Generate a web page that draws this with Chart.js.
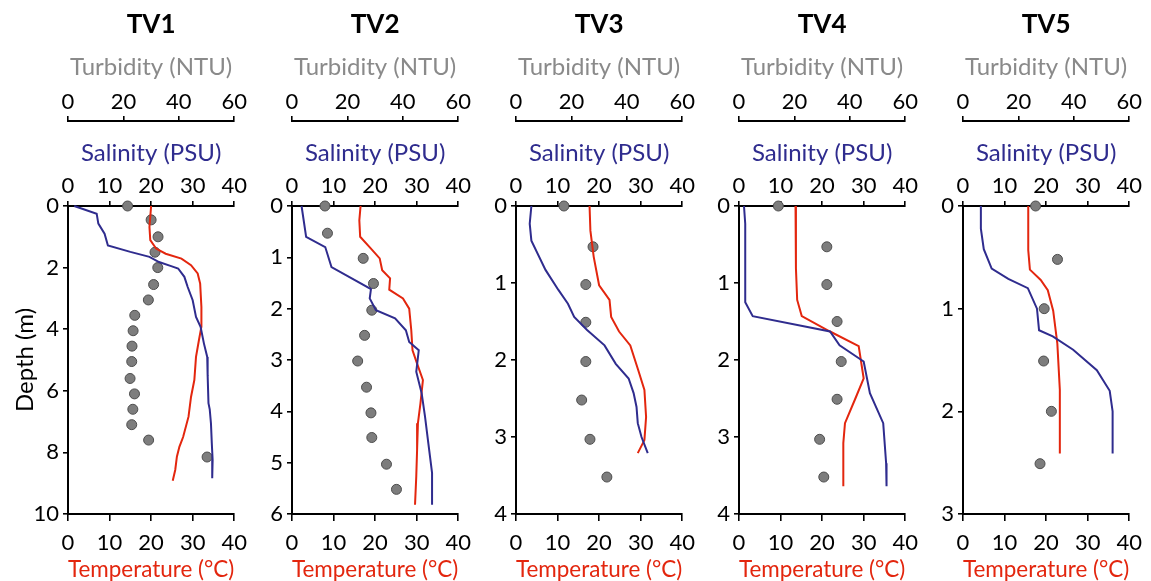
<!DOCTYPE html>
<html>
<head>
<meta charset="utf-8">
<title>TV depth profiles</title>
<script src="https://cdn.jsdelivr.net/npm/chart.js@4.4.1/dist/chart.umd.min.js"></script>
<style>
  html, body { margin: 0; padding: 0; background: #fff; width: 1151px; height: 581px; overflow: hidden; }
  canvas { position: absolute; top: 0; }
</style>
</head>
<body>
<canvas id="tv1"></canvas>
<canvas id="tv2"></canvas>
<canvas id="tv3"></canvas>
<canvas id="tv4"></canvas>
<canvas id="tv5"></canvas>
<script>
'use strict';

const FONT = 'Lato, "Open Sans", sans-serif';

const PANEL_NAMES = ['TV1', 'TV2', 'TV3', 'TV4', 'TV5'];
const DEPTH_MAX = [10, 6, 4, 4, 3];
const DEPTH_STEP = [2, 1, 1, 1, 1];
const SAL_RANGE = [0, 40, 10];
const TEMP_RANGE = [0, 40, 10];
const TURB_RANGE = [0, 60, 20];

// [depth (m), value]
const TV1_SALINITY = [[0, 1.5], [0.25, 6.9], [0.57, 7.3], [0.9, 8.8], [1.28, 9.6], [1.49, 15], [1.65, 19.6], [1.82, 21.9], [1.96, 25], [2.03, 26.5], [2.3, 28], [2.63, 28.8], [3.06, 30], [3.6, 30.8], [3.92, 31.9], [4.46, 32.7], [4.9, 33.5], [5.5, 33.6], [6.4, 33.8], [6.6, 34.1], [7.06, 34.4], [7.7, 34.6], [8.25, 34.8], [8.84, 34.7]];
const TV1_TEMPERATURE = [[0, 20], [0.68, 19.6], [1.11, 19.8], [1.38, 21.2], [1.55, 23.5], [1.71, 27.3], [1.92, 29.6], [2.19, 31.2], [2.52, 31.8], [3.28, 32.1], [3.92, 32.1], [4.36, 31.5], [4.9, 30.8], [5.65, 30.4], [6.2, 29.6], [6.84, 29], [7.5, 27.7], [7.82, 26.8], [8.14, 26.2], [8.57, 25.8], [8.92, 25.2]];
const TV1_TURBIDITY = [[0, 21.5], [0.45, 30], [1, 32.5], [1.5, 31.4], [2, 32.4], [2.55, 30.9], [3.05, 29], [3.55, 24.1], [4.05, 23.5], [4.55, 23.1], [5.05, 23], [5.6, 22.4], [6.1, 24], [6.6, 23.4], [7.1, 23], [7.6, 29.1], [8.15, 50.2]];

const TV2_SALINITY = [[0, 2.3], [0.6, 3.4], [0.8, 8], [1.19, 9.5], [1.62, 19], [1.8, 18.7], [2.03, 20.2], [2.19, 24.8], [2.42, 27.4], [2.65, 28.2], [2.81, 30.5], [3.23, 29.9], [3.65, 31.2], [4.1, 32], [4.62, 32.8], [5.2, 33.7], [5.82, 33.7]];
const TV2_TEMPERATURE = [[0, 16.5], [0.28, 16.2], [0.6, 16.4], [0.83, 19], [1.02, 21.1], [1.25, 21.7], [1.41, 23.6], [1.63, 23.4], [1.8, 26.7], [2, 28.2], [2.42, 28.7], [2.81, 29], [3.07, 30.1], [3.39, 31.5], [3.85, 30.9], [4.23, 30.3], [4.75, 30.1], [5.27, 29.9], [5.82, 29.6]];
const TV2_TURBIDITY = [[0, 11.9], [0.53, 12.8], [1.02, 25.7], [1.51, 29.4], [2.03, 28.8], [2.52, 26.2], [3.02, 23.7], [3.53, 26.9], [4.03, 28.5], [4.51, 28.8], [5.03, 34.1], [5.52, 37.7]];

const TV3_SALINITY = [[0, 3.7], [0.23, 3.3], [0.45, 3.7], [0.83, 7.1], [1.09, 10.2], [1.27, 12.5], [1.44, 14], [1.61, 17.1], [1.81, 21.3], [2.05, 24], [2.24, 27.1], [2.43, 28.3], [2.61, 29], [2.82, 29.3], [3, 30.2], [3.21, 31.7]];
const TV3_TEMPERATURE = [[0, 17.7], [0.32, 17.9], [0.66, 18.7], [1.03, 20], [1.22, 22.5], [1.44, 22.9], [1.63, 24.8], [1.81, 27.5], [2.13, 29.4], [2.39, 30.9], [2.74, 31.3], [3.04, 30.9], [3.21, 29.3]];
const TV3_TURBIDITY = [[0, 17.3], [0.53, 27.8], [1.02, 25.2], [1.51, 25.2], [2.02, 25.2], [2.52, 23.7], [3.03, 26.7], [3.52, 32.8]];

const TV4_SALINITY = [[0, 1.2], [0.23, 1.5], [1.25, 1.5], [1.43, 3.3], [1.63, 21.9], [1.81, 24.2], [2.02, 30], [2.43, 31.5], [2.82, 34.7], [3.34, 35.4], [3.64, 35.5]];
const TV4_TEMPERATURE = [[0, 13.6], [0.81, 13.7], [1.22, 14], [1.43, 15.1], [1.63, 21.9], [1.82, 28.8], [2.24, 30], [2.5, 28], [2.82, 25.5], [3.08, 25.1], [3.64, 25.1]];
const TV4_TURBIDITY = [[0, 14.2], [0.53, 31.7], [1.02, 31.7], [1.5, 35.4], [2.02, 36.9], [2.51, 35.4], [3.03, 29.1], [3.52, 30.6]];

const TV5_SALINITY = [[0, 4.3], [0.22, 4.3], [0.42, 5], [0.61, 6.9], [0.71, 10.9], [0.8, 15.6], [1, 17.8], [1.21, 18.3], [1.27, 21.6], [1.4, 26.5], [1.6, 32.2], [1.8, 35.3], [2, 36], [2.41, 36]];
const TV5_TEMPERATURE = [[0, 15.7], [0.43, 15.7], [0.62, 16.1], [0.72, 18.7], [0.82, 20.4], [1.02, 21.7], [1.34, 22.7], [1.79, 23.3], [2.41, 23.3]];
const TV5_TURBIDITY = [[0, 26.2], [0.52, 34.1], [1, 29.3], [1.51, 29.1], [2, 31.9], [2.51, 27.8]];

const SALINITY = [TV1_SALINITY, TV2_SALINITY, TV3_SALINITY, TV4_SALINITY, TV5_SALINITY];
const TEMPERATURE = [TV1_TEMPERATURE, TV2_TEMPERATURE, TV3_TEMPERATURE, TV4_TEMPERATURE, TV5_TEMPERATURE];
const TURBIDITY = [TV1_TURBIDITY, TV2_TURBIDITY, TV3_TURBIDITY, TV4_TURBIDITY, TV5_TURBIDITY];

const COLORS = {
  salinity: '#2f2c8e',
  temperature: '#e3260e',
  turbidity: '#8a8a8a',
  dotFill: '#7d7d7d',
  dotBorder: '#4d4d4d',
  axis: '#000',
};

// layout of each panel (canvas px)
const PLOT_LEFT = [68, 292, 516, 739, 963];
const PLOT_WIDTH = 174;
const RIGHT_PAD = 14;
const CANVAS_H = 581;
const TITLE_H = 50;
const TURB_H = 71;
const SAL_H = 85;
const TEMP_H = 67;

Chart.defaults.font.family = FONT;
Chart.defaults.color = '#000';

const toPoints = rows => rows.map(([d, v]) => ({ x: v, y: d }));

function axisStyle(tickLength) {
  return {
    grid: { display: true, drawOnChartArea: false, drawTicks: true, tickLength, color: COLORS.axis, lineWidth: 1.6 },
    border: { display: true, color: COLORS.axis, width: 2 },
  };
}

function makePanel(i) {
  const canvas = document.getElementById(`tv${i + 1}`);
  const yWidth = i === 0 ? 68 : 44;
  canvas.width = yWidth + PLOT_WIDTH + RIGHT_PAD;
  canvas.height = CANVAS_H;
  canvas.style.left = `${PLOT_LEFT[i] - yWidth}px`;

  const tickFont = { family: FONT, size: 22 };
  const titleFont = { family: FONT, size: 24, lineHeight: 1 };

  return new Chart(canvas, {
    type: 'scatter',
    data: {
      datasets: [
        {
          label: 'Salinity',
          data: toPoints(SALINITY[i]),
          xAxisID: 'xSal',
          showLine: true,
          borderColor: COLORS.salinity,
          borderWidth: 2,
          pointRadius: 0,
          clip: false,
        },
        {
          label: 'Temperature',
          data: toPoints(TEMPERATURE[i]),
          xAxisID: 'xTemp',
          showLine: true,
          borderColor: COLORS.temperature,
          borderWidth: 2,
          pointRadius: 0,
          clip: false,
        },
        {
          label: 'Turbidity',
          data: toPoints(TURBIDITY[i]),
          xAxisID: 'xTurb',
          showLine: false,
          pointRadius: 5,
          backgroundColor: COLORS.dotFill,
          borderColor: COLORS.dotBorder,
          borderWidth: 1,
          clip: false,
        },
      ],
    },
    options: {
      responsive: false,
      animation: false,
      devicePixelRatio: 1,
      layout: { padding: { left: 0, right: RIGHT_PAD, top: 0, bottom: 0 } },
      plugins: {
        legend: { display: false },
        tooltip: { enabled: false },
        title: {
          display: true,
          text: PANEL_NAMES[i],
          fullSize: false,
          color: '#000',
          font: { family: FONT, size: 26, weight: 'bold', lineHeight: 1 },
          padding: { top: 12, bottom: TITLE_H - 12 - 26 },
        },
      },
      scales: {
        y: {
          type: 'linear',
          position: 'left',
          reverse: true,
          min: 0,
          max: DEPTH_MAX[i],
          ticks: { stepSize: DEPTH_STEP[i], font: tickFont, color: '#000', padding: 4 },
          ...axisStyle(5),
          title: {
            display: i === 0,
            text: 'Depth (m)',
            color: '#000',
            font: titleFont,
            padding: { top: 13, bottom: 0 },
          },
          afterFit: s => { s.width = yWidth; },
        },
        xTurb: {
          type: 'linear',
          axis: 'x',
          position: 'top',
          weight: 1,
          min: TURB_RANGE[0],
          max: TURB_RANGE[1],
          ticks: { stepSize: TURB_RANGE[2], font: tickFont, color: '#000', padding: 1, maxRotation: 0 },
          ...axisStyle(5),
          title: { display: true, text: 'Turbidity (NTU)', color: COLORS.turbidity, font: titleFont, padding: { top: 5, bottom: 0 } },
          afterFit: s => { s.height = TURB_H; },
        },
        xSal: {
          type: 'linear',
          axis: 'x',
          position: 'top',
          weight: 0,
          min: SAL_RANGE[0],
          max: SAL_RANGE[1],
          ticks: { stepSize: SAL_RANGE[2], font: tickFont, color: '#000', padding: 2, maxRotation: 0 },
          ...axisStyle(5),
          title: { display: true, text: 'Salinity (PSU)', color: COLORS.salinity, font: titleFont, padding: { top: 20, bottom: 0 } },
          afterFit: s => { s.height = SAL_H; },
        },
        xTemp: {
          type: 'linear',
          axis: 'x',
          position: 'bottom',
          min: TEMP_RANGE[0],
          max: TEMP_RANGE[1],
          ticks: { stepSize: TEMP_RANGE[2], font: tickFont, color: '#000', padding: 9, maxRotation: 0 },
          ...axisStyle(7),
          title: { display: true, text: 'Temperature (°C)', color: COLORS.temperature, font: titleFont, padding: { top: 0, bottom: 0 } },
          afterFit: s => { s.height = TEMP_H; },
        },
      },
    },
  });
}

PANEL_NAMES.forEach((_, i) => makePanel(i));
</script>
</body>
</html>
